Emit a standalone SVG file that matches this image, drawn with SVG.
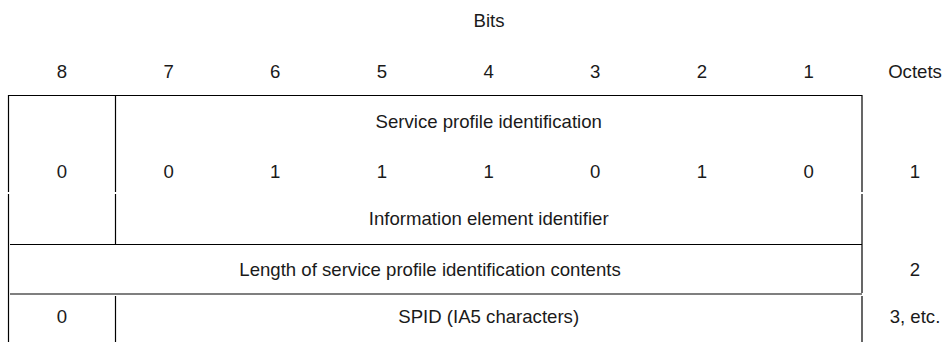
<svg xmlns="http://www.w3.org/2000/svg" width="947" height="342" viewBox="0 0 947 342">
<style>
text{font-family:"Liberation Sans",Arial,sans-serif;font-size:18.6px;fill:#1a1a1a;text-anchor:middle}
line{stroke:#000;stroke-width:1.2}
</style>
<rect width="947" height="342" fill="#fff"/>
<g id="header">
<text x="489" y="27">Bits</text>
<text x="62" y="77.5">8</text>
<text x="168.6" y="77.5">7</text>
<text x="275.2" y="77.5">6</text>
<text x="381.9" y="77.5">5</text>
<text x="488.6" y="77.5">4</text>
<text x="595.2" y="77.5">3</text>
<text x="701.9" y="77.5">2</text>
<text x="808.6" y="77.5">1</text>
<text x="915" y="77.5">Octets</text>
</g>
<g id="grid">
<line x1="8.5" y1="95.5" x2="862" y2="95.5"/>
<line x1="8.5" y1="95" x2="8.5" y2="192"/>
<line x1="8.5" y1="194" x2="8.5" y2="342"/>
<line x1="115.5" y1="95" x2="115.5" y2="192"/>
<line x1="115.5" y1="194" x2="115.5" y2="244"/>
<line x1="115.5" y1="296" x2="115.5" y2="342"/>
<line x1="862" y1="95" x2="862" y2="192"/>
<line x1="862" y1="194" x2="862" y2="293"/>
<line x1="862" y1="296" x2="862" y2="342"/>
<line x1="10" y1="244.5" x2="862" y2="244.5"/>
<line x1="10" y1="294" x2="862" y2="294"/>
</g>
<g id="octet1">
<text x="488.7" y="128">Service profile identification</text>
<text x="62" y="177.5">0</text>
<text x="168.6" y="177.5">0</text>
<text x="275.2" y="177.5">1</text>
<text x="381.9" y="177.5">1</text>
<text x="488.6" y="177.5">1</text>
<text x="595.2" y="177.5">0</text>
<text x="701.9" y="177.5">1</text>
<text x="808.6" y="177.5">0</text>
<text x="488.7" y="225">Information element identifier</text>
<text x="915" y="177.5">1</text>
</g>
<g id="octet2">
<text x="430" y="276">Length of service profile identification contents</text>
<text x="915" y="276">2</text>
</g>
<g id="octet3">
<text x="62" y="322.5">0</text>
<text x="488.7" y="322.5">SPID (IA5 characters)</text>
<text x="915" y="322.5">3, etc.</text>
</g>
</svg>
